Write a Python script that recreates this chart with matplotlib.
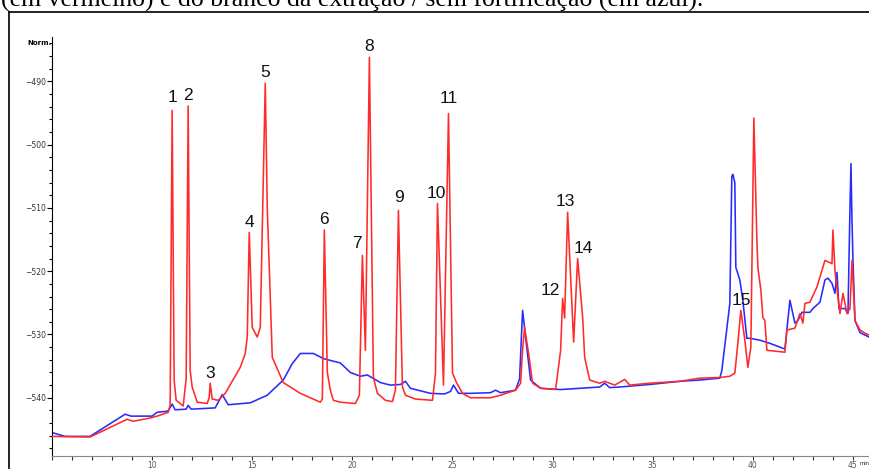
import matplotlib
matplotlib.use("Agg")
import matplotlib.pyplot as plt
from matplotlib.lines import Line2D
from matplotlib.ticker import MultipleLocator

# ---- data (retention time in min, normalised signal) ----
blue_time = [5.0, 5.65, 6.9, 7.05, 8.65, 8.95, 10.0, 10.25, 10.8, 11.0, 11.15, 11.7, 11.8, 11.95,
             13.15, 13.5, 13.8, 14.9, 15.75, 16.55, 17.0, 17.4, 18.05, 18.55, 18.9, 19.4, 19.9, 20.4,
             20.75, 21.4, 21.9, 22.4, 22.65, 22.9, 23.9, 24.6, 24.9, 25.05, 25.3, 25.9, 26.9,
             27.15, 27.4, 28.15, 28.35, 28.5, 28.65, 28.9, 29.4, 30.4, 31.4, 32.35, 32.6, 32.85,
             33.35, 34.85, 36.35, 37.35, 38.35, 38.45, 38.85, 38.95, 39.0, 39.1, 39.15, 39.2,
             39.35, 39.5, 39.7, 39.85, 40.35, 40.85, 41.35, 41.6, 41.85, 42.1, 42.25, 42.45,
             42.85, 43.0, 43.35, 43.6, 43.75, 43.95, 44.1, 44.2, 44.3, 44.6, 44.75, 44.85,
             44.9, 44.95, 45.0, 45.1, 45.35, 45.8]
blue_signal = [-545.5, -546.1, -546.1, -545.8, -542.6, -542.9, -542.9, -542.3, -542.1, -541.0,
               -541.9, -541.8, -541.2, -541.8, -541.6, -539.5, -541.1, -540.8, -539.6, -537.2,
               -534.6, -533.0, -533.0, -533.8, -534.1, -534.5, -536.0, -536.6, -536.4, -537.6, -538.0,
               -537.9, -537.4, -538.5, -539.3, -539.4, -539.0, -538.0, -539.3, -539.3, -539.2,
               -538.8, -539.2, -538.8, -537.0, -526.2, -530.4, -537.2, -538.5, -538.7, -538.5,
               -538.3, -537.7, -538.4, -538.3, -537.9, -537.4, -537.2, -536.9, -535.7, -525.1,
               -505.0, -504.7, -506.0, -519.4, -519.9, -521.4, -524.6, -530.6, -530.6, -530.9,
               -531.4, -532.0, -532.3, -524.6, -528.2, -527.8, -526.5, -526.5, -525.9, -524.9,
               -521.4, -521.1, -521.9, -523.5, -520.2, -525.9, -525.9, -526.7, -510.0, -503.0,
               -512.0, -518.3, -527.8, -529.7, -530.4]

red_time = [5.0, 6.9, 8.75, 9.05, 9.9, 10.25, 10.8, 10.9, 11.0, 11.1, 11.2, 11.55, 11.7, 11.8,
            11.9, 12.0, 12.25, 12.75, 12.85, 12.9, 13.0, 13.3, 13.65, 14.4, 14.65, 14.75, 14.85,
            15.0, 15.25, 15.4, 15.65, 15.75, 16.0, 16.55, 17.4, 18.4, 18.5, 18.6, 18.75, 18.9,
            19.05, 19.4, 20.15, 20.35, 20.5, 20.65, 20.85, 21.05, 21.25, 21.65, 22.0, 22.15,
            22.3, 22.5, 22.65, 23.15, 24.0, 24.15, 24.25, 24.55, 24.8, 25.0, 25.2, 25.5, 25.9,
            26.9, 27.4, 28.15, 28.4, 28.5, 28.6, 28.8, 29.0, 29.4, 30.15, 30.4, 30.5, 30.6,
            30.75, 31.05, 31.25, 31.5, 31.6, 31.85, 32.35, 32.6, 33.1, 33.6, 33.85, 34.85,
            36.35, 37.35, 38.35, 38.85, 39.1, 39.25, 39.4, 39.6, 39.75, 39.9, 40.05, 40.2,
            40.25, 40.4, 40.5, 40.6, 40.7, 41.6, 41.7, 42.1, 42.35, 42.5, 42.6, 42.85, 43.2,
            43.6, 43.95, 44.0, 44.1, 44.25, 44.35, 44.5, 44.7, 44.85, 44.95, 45.1, 45.35,
            45.6, 45.8]
red_signal = [-546.1, -546.2, -543.4, -543.7, -543.2, -542.9, -542.3, -541.2, -494.6, -537.2,
              -540.4, -541.3, -537.0, -493.9, -535.7, -538.3, -540.7, -540.9, -540.0, -537.7,
              -540.2, -540.4, -539.3, -535.2, -533.0, -530.4, -513.9, -528.9, -530.4, -528.9,
              -490.3, -510.0, -533.6, -537.6, -539.3, -540.7, -540.2, -513.5, -536.0, -538.8,
              -540.4, -540.7, -540.9, -539.6, -517.5, -532.5, -486.2, -536.8, -539.3, -540.4,
              -540.6, -538.8, -510.4, -538.3, -539.6, -540.2, -540.4, -536.1, -509.3, -538.0,
              -495.1, -536.1, -537.6, -539.3, -540.0, -540.0, -539.6, -538.8, -537.7, -532.5,
              -528.9, -533.0, -537.7, -538.5, -538.7, -532.5, -524.3, -527.4, -510.7, -531.2,
              -518.0, -527.3, -533.6, -537.2, -537.7, -537.4, -538.0, -537.1, -538.0, -537.7,
              -537.4, -536.9, -536.8, -536.6, -536.1, -531.4, -526.2, -530.9, -535.2, -532.0,
              -495.8, -515.0, -519.4, -523.0, -527.3, -527.8, -532.5, -532.8, -529.3, -529.0,
              -526.7, -528.2, -525.1, -524.9, -522.5, -518.3, -518.8, -513.5, -519.9, -524.1,
              -526.7, -523.5, -526.7, -525.9, -518.3, -527.8, -529.3, -529.8, -530.1]

peak_labels = ["1", "2", "3", "4", "5", "6", "7", "8", "9", "10", "11", "12", "13", "14", "15"]
label_time = [11.0, 11.8, 12.9, 14.85, 15.65, 18.6, 20.25, 20.85, 22.35, 24.2, 24.8, 29.9, 30.65, 31.55, 39.45]
label_signal = [-492.5, -492.2, -536.1, -512.3, -488.6, -511.8, -515.6, -484.5, -508.3, -507.7,
                -492.7, -523.0, -509.0, -516.4, -524.6]

x_ticks = [10, 15, 20, 25, 30, 35, 40, 45]
y_ticks = [-540, -530, -520, -510, -500, -490]

caption = "(em vermelho) e do branco da extração / sem fortificação (em azul)."

# ---- figure ----
W, H = 869, 469
fig = plt.figure(figsize=(W / 100, H / 100), dpi=100)
ax = fig.add_axes([52 / W, 1 - 456 / H, 1 - 52 / W, (456 - 37) / H])

ax.plot(blue_time, blue_signal, color="#2a2aff", lw=1.15, zorder=2)
ax.plot(red_time, red_signal, color="#ff2a2a", lw=1.15, zorder=3)

for lab, t, v in zip(peak_labels, label_time, label_signal):
    ax.text(t, v, lab, ha="center", va="center", fontsize=12.5,
            family="Liberation Sans", color="#111111", zorder=4)

ax.set_xlim(5.0, 45.8)
ax.set_ylim(-549.2, -483.0)
ax.set_xticks(x_ticks)
ax.set_yticks(y_ticks)
ax.xaxis.set_minor_locator(MultipleLocator(1))
ax.yaxis.set_minor_locator(MultipleLocator(2))
ax.tick_params(axis="x", which="both", direction="out", length=3, width=0.8,
               labelsize=5.5, labelcolor="#555555", pad=0.8, colors="#333333")
ax.tick_params(axis="y", which="major", direction="out", length=3.5, width=0.8,
               labelsize=5.5, labelcolor="#333333", pad=1)
ax.tick_params(axis="y", which="minor", direction="out", length=2.5, width=0.8)
for s in ["top", "right"]:
    ax.spines[s].set_visible(False)
ax.spines["bottom"].set_color("#888888")
ax.spines["left"].set_color("#000000")
ax.spines["left"].set_linewidth(0.8)
ax.set_facecolor("none")

fig.text(859 / W, 1 - 463 / H, "min", ha="left", va="center", fontsize=3.8, color="#222222")

fig.text(27 / W, 1 - 43 / H, "Norm.", fontsize=5, fontweight="bold", va="center", ha="left")

# frame around the figure area
fig.add_artist(Line2D([9 / W, 9 / W], [0, 1 - 12 / H], color="black", lw=1.2,
                      transform=fig.transFigure))
fig.add_artist(Line2D([9 / W, 1], [1 - 12 / H, 1 - 12 / H], color="black", lw=1.2,
                      transform=fig.transFigure))

fig.text(1 / W, 1 - 7 / H, caption, fontsize=18.5, family="Liberation Serif",
         ha="left", va="baseline", color="black")

fig.savefig("out.png", dpi=100)
